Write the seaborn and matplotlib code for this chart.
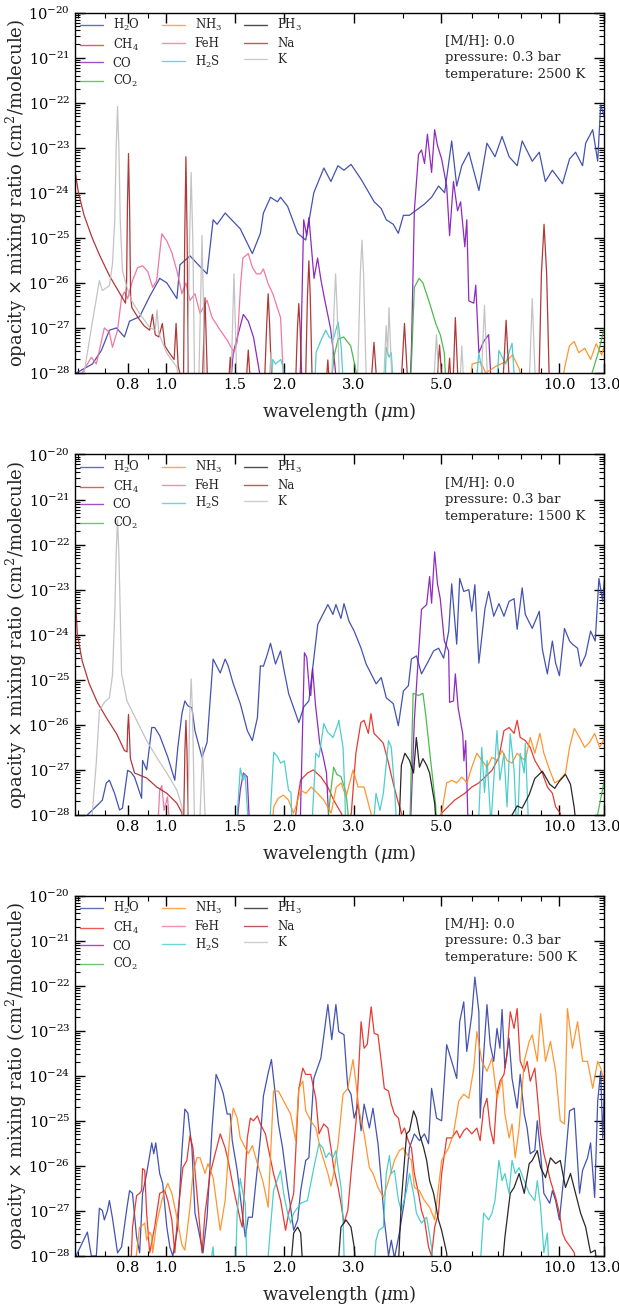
"""
Opacity x mixing ratio spectra at 0.3 bar for three temperatures.
Values are read off a reference figure (log10 of opacity x mixing ratio).
"""
import matplotlib
matplotlib.use("Agg")
import matplotlib.pyplot as plt
import numpy as np
import seaborn as sns
from matplotlib.lines import Line2D
from matplotlib.ticker import FixedLocator, FixedFormatter, LogLocator, NullFormatter

sns.set_theme(style="ticks")
plt.rcParams["font.family"] = ["DejaVu Serif"]
plt.rcParams["mathtext.fontset"] = "dejavuserif"

# ── labels / colours ────────────────────────────────────────────────────────
SPECIES = ["H2O", "CH4", "CO", "CO2", "NH3", "FeH", "H2S", "PH3", "Na", "K"]
LABELS = ["H$_2$O", "CH$_4$", "CO", "CO$_2$", "NH$_3$", "FeH", "H$_2$S", "PH$_3$", "Na", "K"]
COLORS = ["#3040a8", "#e3261c", "#8314b8", "#3cb43c", "#ff8a1a",
          "#ee6a9a", "#3cc8c8", "#111111", "#a82222", "#bdbdbd"]
TEMPERATURES = [2500, 1500, 500]
XTICKS = [0.8, 1.0, 1.5, 2.0, 3.0, 5.0, 10.0, 13.0]
XTICKLABELS = ["0.8", "1.0", "1.5", "2.0", "3.0", "5.0", "10.0", "13.0"]
YDECADES = [-28, -27, -26, -25, -24, -23, -22, -21, -20]

# ── T = 2500 K  (wavelength um, log10 opacity) ──────────────────────────────
H2O_2500 = [(0.585, -28.2), (0.592, -28.0), (0.651, -27.8), (0.686, -27.5), (0.719, -27.05),
            (0.749, -27.0), (0.785, -27.2), (0.809, -26.85), (0.858, -26.75), (0.91, -26.3),
            (0.965, -25.9), (1.006, -26.0), (1.067, -26.35), (1.086, -25.6), (1.152, -25.4),
            (1.21, -25.6), (1.273, -25.8), (1.319, -24.6), (1.35, -24.7), (1.415, -24.45),
            (1.546, -24.8), (1.659, -25.35), (1.739, -24.9), (1.77, -24.45), (1.845, -24.1),
            (1.922, -24.2), (1.957, -24.1), (2.039, -24.3), (2.163, -24.9), (2.267, -25.05),
            (2.377, -24.0), (2.521, -23.45), (2.627, -23.75), (2.737, -23.4), (2.836, -23.5),
            (2.955, -23.37), (3.134, -23.7), (3.267, -23.97), (3.384, -24.2), (3.526, -24.35),
            (3.632, -24.6), (3.784, -24.7), (3.897, -24.9), (4.014, -24.5), (4.158, -24.5),
            (4.385, -24.35), (4.543, -24.25), (4.734, -24.1), (4.933, -23.85), (5.11, -24.0),
            (5.325, -22.85), (5.484, -23.85), (5.648, -23.4), (5.886, -23.1), (6.243, -23.95),
            (6.545, -22.9), (6.861, -23.2), (7.15, -22.75), (7.451, -23.2), (7.81, -23.4),
            (8.043, -22.85), (8.531, -23.3), (8.89, -23.1), (9.209, -23.75), (9.597, -23.5),
            (10.18, -23.8), (10.61, -23.25), (10.99, -23.1), (11.45, -23.4), (11.66, -22.9),
            (12.15, -22.6), (12.51, -23.3), (12.73, -22.05), (13.04, -22.35)]
CO_2500 = [(1.45, -28.6), (1.484, -27.55), (1.574, -26.7), (1.62, -26.85), (1.67, -27.2),
           (1.739, -28.1), (1.78, -28.6), (2.18, -28.6), (2.2, -27.8), (2.24, -24.6),
           (2.28, -24.95), (2.31, -24.55), (2.38, -25.9), (2.43, -25.45), (2.48, -25.95),
           (2.53, -26.35), (2.62, -27.0), (2.68, -27.7), (2.74, -28.6), (4.16, -28.6),
           (4.207, -27.5), (4.28, -24.4), (4.385, -23.15), (4.463, -23.05), (4.543, -23.35),
           (4.62, -22.7), (4.734, -23.55), (4.82, -22.6), (4.90, -22.95), (5.021, -23.25),
           (5.171, -23.85), (5.26, -24.95), (5.38, -23.75), (5.51, -24.4), (5.61, -24.2),
           (5.75, -25.2), (5.817, -24.6), (5.886, -26.4), (6.06, -26.45), (6.13, -26.05),
           (6.243, -27.55), (6.42, -27.3), (6.61, -27.15), (6.74, -28.6)]
CO2_2500 = [(2.6, -28.6), (2.68, -27.6), (2.74, -27.25), (2.83, -27.2), (2.95, -27.4),
            (3.05, -28.0), (3.1, -28.6), (4.16, -28.6), (4.207, -27.8), (4.28, -26.1),
            (4.4, -25.9), (4.5, -26.0), (4.68, -26.45), (4.85, -26.9), (4.98, -27.15),
            (5.1, -27.55), (5.17, -28.6), (11.8, -28.6), (12.1, -28.0), (12.6, -27.5),
            (13.0, -27.0)]
NH3_2500 = [(5.9, -28.6), (6.0, -27.8), (6.3, -27.75), (6.5, -28.0), (6.9, -27.85),
            (7.3, -27.75), (7.6, -27.6), (7.9, -27.9), (8.2, -28.6), (10.0, -28.6),
            (10.3, -27.9), (10.6, -27.4), (10.9, -27.3), (11.2, -27.55), (11.6, -27.45),
            (12.0, -27.7), (12.4, -27.35), (12.8, -27.6), (13.0, -27.4)]
FeH_2500 = [(0.60, -28.6), (0.613, -28.0), (0.647, -27.65), (0.666, -27.8), (0.698, -27.0),
            (0.719, -27.1), (0.732, -27.43), (0.754, -27.05), (0.772, -26.33), (0.785, -26.2),
            (0.80, -26.35), (0.823, -25.95), (0.848, -25.66), (0.873, -25.62), (0.90, -25.75),
            (0.926, -26.1), (0.948, -25.95), (0.977, -24.91), (1.006, -25.07), (1.036, -25.33),
            (1.067, -25.73), (1.099, -26.24), (1.125, -26.0), (1.152, -26.39), (1.186, -26.24),
            (1.222, -26.68), (1.273, -26.39), (1.311, -26.77), (1.375, -27.05), (1.432, -27.27),
            (1.49, -27.55), (1.52, -27.3), (1.55, -26.0), (1.57, -25.45), (1.62, -25.35),
            (1.66, -25.66), (1.70, -25.8), (1.739, -25.8), (1.77, -25.69), (1.82, -26.02),
            (1.87, -26.24), (1.92, -26.55), (1.957, -26.77), (1.98, -27.71), (2.0, -28.6)]
H2S_2500 = [(1.85, -28.6), (1.87, -27.7), (1.9, -27.8), (1.96, -27.7), (1.99, -27.9),
            (2.01, -28.6), (2.38, -28.6), (2.41, -27.54), (2.48, -27.27), (2.55, -27.05),
            (2.6, -27.2), (2.66, -27.27), (2.74, -26.87), (2.79, -27.43), (2.84, -28.6),
            (3.6, -28.6), (3.63, -27.43), (3.69, -27.65), (3.74, -27.55), (3.8, -28.6),
            (6.1, -28.6), (6.24, -27.56), (6.35, -27.9), (6.45, -28.6), (6.9, -28.6),
            (7.02, -27.5), (7.3, -27.8), (7.58, -27.34), (7.75, -28.6)]
Na_2500 = [(0.585, -23.3), (0.59, -23.6), (0.60, -24.0), (0.62, -24.5), (0.65, -25.0),
           (0.68, -25.4), (0.72, -25.85), (0.76, -26.2), (0.79, -26.45), (0.795, -26.0),
           (0.799, -24.3), (0.804, -23.13), (0.809, -24.3), (0.814, -26.3), (0.82, -26.55),
           (0.85, -26.77), (0.88, -26.95), (0.91, -27.05), (0.925, -26.7), (0.94, -27.15),
           (0.96, -27.2), (0.98, -26.9), (0.995, -27.4), (1.02, -27.55), (1.05, -27.7),
           (1.062, -26.9), (1.075, -27.85), (1.10, -28.2), (1.108, -28.6), (1.117, -25.0),
           (1.125, -23.2), (1.133, -25.0), (1.142, -28.6), (1.235, -28.6), (1.258, -26.33),
           (1.28, -28.6), (1.435, -28.6), (1.458, -27.65), (1.48, -28.6), (1.59, -28.6),
           (1.62, -27.49), (1.65, -28.6), (1.775, -28.6), (1.805, -26.9), (1.82, -26.24),
           (1.835, -26.9), (1.865, -28.6), (2.13, -28.6), (2.16, -27.0), (2.177, -26.46),
           (2.194, -27.0), (2.225, -28.6), (2.26, -28.6), (2.29, -26.3), (2.309, -25.51),
           (2.328, -26.3), (2.36, -28.6), (2.54, -28.6), (2.58, -27.71), (2.62, -28.6),
           (3.30, -28.6), (3.38, -27.32), (3.46, -28.6), (3.94, -28.6), (4.04, -26.9),
           (4.14, -28.6), (4.85, -28.6), (4.96, -27.38), (5.07, -28.6), (5.16, -28.6),
           (5.26, -27.67), (5.33, -28.6), (5.35, -28.6), (5.44, -26.77), (5.55, -28.6),
           (7.15, -28.6), (7.32, -26.83), (7.50, -28.6), (8.85, -28.6), (9.0, -25.8),
           (9.14, -24.7), (9.28, -25.8), (9.45, -28.6), (13.0, -28.6)]
K_2500 = [(0.60, -28.6), (0.62, -28.0), (0.65, -26.9), (0.678, -25.95), (0.69, -26.17),
          (0.719, -26.06), (0.732, -25.58), (0.742, -24.6), (0.748, -23.0), (0.754, -22.09),
          (0.760, -23.0), (0.766, -24.6), (0.776, -25.73), (0.797, -26.1), (0.818, -26.39),
          (0.858, -26.68), (0.91, -26.99), (0.94, -27.05), (0.95, -26.6), (0.96, -27.12),
          (1.006, -27.56), (1.067, -27.87), (1.09, -28.6), (1.135, -28.6), (1.148, -25.2),
          (1.16, -23.55), (1.172, -25.2), (1.185, -28.6), (1.21, -28.6), (1.236, -24.95),
          (1.26, -28.6), (1.46, -28.6), (1.49, -25.8), (1.52, -28.6), (1.82, -28.6),
          (1.85, -27.55), (1.88, -28.6), (2.63, -28.6), (2.675, -26.6), (2.70, -25.8),
          (2.725, -26.6), (2.77, -28.6), (3.06, -28.6), (3.12, -25.8), (3.15, -25.05),
          (3.18, -25.8), (3.24, -28.6), (3.56, -28.6), (3.63, -26.95), (3.66, -27.6),
          (3.69, -26.55), (3.77, -28.6), (4.77, -28.6), (4.87, -27.15), (4.97, -28.6),
          (5.56, -28.6), (5.65, -27.4), (5.74, -28.6), (6.3, -28.6), (6.45, -26.5),
          (6.6, -28.6), (8.35, -28.6), (8.53, -26.35), (8.72, -28.6), (13.0, -28.6)]

# ── T = 1500 K ──────────────────────────────────────────────────────────────
H2O_1500 = [(0.59, -28.3), (0.632, -28.0), (0.678, -27.74), (0.69, -27.67), (0.706, -27.29),
            (0.719, -27.23), (0.741, -27.52), (0.763, -27.89), (0.776, -27.85), (0.80, -27.01),
            (0.815, -27.05), (0.833, -27.16), (0.868, -27.63), (0.873, -26.79), (0.894, -27.0),
            (0.921, -26.06), (0.937, -26.06), (0.965, -26.24), (1.012, -26.72), (1.054, -27.23),
            (1.073, -26.5), (1.099, -25.75), (1.118, -25.47), (1.138, -25.58), (1.165, -25.62),
            (1.186, -26.13), (1.236, -26.72), (1.273, -26.39), (1.319, -24.54), (1.375, -24.85),
            (1.415, -24.54), (1.44, -24.69), (1.484, -25.09), (1.546, -25.53), (1.611, -26.13),
            (1.659, -26.35), (1.709, -25.84), (1.739, -24.69), (1.77, -24.7), (1.812, -24.43),
            (1.845, -24.19), (1.90, -24.65), (1.957, -24.36), (1.992, -24.74), (2.052, -25.31),
            (2.138, -25.75), (2.177, -25.95), (2.242, -25.6), (2.309, -25.47), (2.433, -23.77),
            (2.506, -23.55), (2.581, -23.33), (2.658, -23.55), (2.705, -23.33), (2.786, -23.64),
            (2.836, -23.31), (2.92, -23.7), (3.01, -23.92), (3.134, -24.3), (3.228, -24.65),
            (3.324, -24.87), (3.423, -25.09), (3.526, -24.95), (3.632, -25.4), (3.784, -25.53),
            (3.897, -26.02), (4.014, -25.25), (4.134, -25.13), (4.207, -24.54), (4.333, -24.47),
            (4.463, -24.87), (4.65, -24.58), (4.79, -24.36), (4.933, -24.3), (5.08, -24.52),
            (5.233, -23.92), (5.325, -22.87), (5.484, -24.21), (5.58, -22.75), (5.714, -23.04),
            (5.886, -23.0), (5.991, -23.48), (6.098, -22.89), (6.243, -24.63), (6.47, -23.42),
            (6.61, -23.04), (6.81, -23.59), (7.02, -23.31), (7.23, -23.59), (7.45, -23.26),
            (7.67, -23.2), (7.81, -23.88), (8.043, -22.96), (8.19, -23.55), (8.531, -23.86),
            (8.89, -23.48), (9.049, -24.32), (9.318, -24.87), (9.597, -24.14), (9.78, -24.63),
            (10.0, -24.91), (10.3, -23.86), (10.61, -24.14), (10.79, -24.21), (11.12, -24.3),
            (11.32, -24.7), (11.66, -24.45), (12.0, -23.92), (12.33, -24.14), (12.6, -22.75),
            (12.88, -23.26), (13.05, -22.6)]
CH4_1500 = [(2.10, -28.6), (2.16, -27.67), (2.20, -27.23), (2.29, -27.07), (2.37, -27.0),
            (2.48, -27.16), (2.58, -27.38), (2.67, -27.67), (2.79, -27.96), (2.9, -28.3),
            (2.96, -27.96), (3.04, -26.63), (3.13, -25.95), (3.19, -25.9), (3.27, -26.19),
            (3.32, -25.75), (3.38, -26.19), (3.46, -26.28), (3.57, -26.41), (3.68, -26.85),
            (3.78, -27.29), (3.90, -27.74), (3.97, -27.96), (4.1, -28.6), (4.9, -28.6),
            (5.02, -27.96), (5.42, -27.67), (5.75, -27.52), (5.99, -27.38), (6.24, -27.29),
            (6.47, -27.16), (6.74, -27.01), (7.02, -26.72), (7.23, -26.13), (7.45, -26.06),
            (7.67, -26.19), (7.81, -25.9), (7.95, -26.28), (8.19, -26.35), (8.43, -26.5),
            (8.66, -26.79), (9.05, -27.07), (9.32, -27.38), (9.6, -27.52), (9.78, -27.82),
            (10.05, -27.96), (10.2, -28.6)]
CO_1500 = [(1.50, -28.6), (1.546, -27.45), (1.574, -27.07), (1.61, -27.15), (1.64, -28.6),
           (2.19, -28.6), (2.25, -24.4), (2.28, -24.5), (2.32, -25.3), (2.335, -25.35),
           (2.36, -24.75), (2.40, -25.55), (2.46, -26.4), (2.51, -26.7), (2.56, -27.07),
           (2.61, -28.6), (4.17, -28.6), (4.28, -25.9), (4.385, -24.43), (4.463, -23.44),
           (4.60, -23.33), (4.68, -22.71), (4.734, -23.3), (4.82, -22.16), (4.90, -22.87),
           (4.98, -23.2), (5.10, -24.14), (5.23, -24.36), (5.26, -25.5), (5.38, -25.47),
           (5.44, -24.87), (5.53, -25.62), (5.68, -26.2), (5.72, -26.8), (5.78, -26.35),
           (5.85, -28.0), (5.9, -28.6)]
CO2_1500 = [(2.55, -28.6), (2.627, -27.45), (2.67, -26.94), (2.72, -27.1), (2.786, -27.15),
            (2.87, -27.5), (2.95, -28.6), (4.16, -28.6), (4.207, -26.8), (4.25, -25.3),
            (4.39, -25.35), (4.5, -25.3), (4.57, -25.75), (4.71, -26.8), (4.85, -27.8),
            (4.9, -28.6), (11.8, -28.6), (12.5, -28.0), (13.05, -27.16)]
NH3_1500 = [(1.85, -28.6), (1.88, -27.82), (1.93, -27.63), (1.99, -27.56), (2.05, -27.67),
            (2.11, -27.96), (2.14, -27.82), (2.20, -27.45), (2.27, -27.52), (2.34, -27.38),
            (2.43, -27.52), (2.52, -27.67), (2.63, -27.96), (2.71, -27.38), (2.79, -27.29),
            (2.87, -27.6), (2.99, -27.0), (3.08, -27.38), (3.19, -27.38), (3.32, -27.96),
            (3.4, -28.6), (4.95, -28.6), (5.02, -27.96), (5.17, -27.29), (5.33, -27.23),
            (5.48, -27.29), (5.65, -27.16), (5.82, -27.29), (5.99, -26.94), (6.17, -26.63),
            (6.35, -26.79), (6.55, -26.94), (6.74, -26.72), (6.94, -26.79), (7.15, -26.57),
            (7.36, -26.79), (7.58, -26.85), (7.81, -26.63), (8.04, -26.74), (8.19, -26.79),
            (8.43, -26.28), (8.66, -26.63), (8.92, -26.19), (9.13, -26.63), (9.45, -27.01),
            (9.73, -27.29), (10.0, -27.23), (10.36, -27.07), (10.61, -26.5), (10.91, -26.08),
            (11.25, -26.28), (11.59, -26.5), (11.93, -26.39), (12.29, -26.19), (12.65, -26.5),
            (13.05, -26.28)]
FeH_1500 = [(0.95, -28.6), (0.965, -27.45), (0.977, -27.35), (0.99, -27.9), (1.01, -27.6),
            (1.03, -28.6)]
H2S_1500 = [(1.50, -28.6), (1.52, -27.96), (1.546, -26.96), (1.57, -27.23), (1.59, -27.1),
            (1.61, -27.82), (1.63, -28.6), (1.83, -28.6), (1.845, -27.9), (1.88, -26.61),
            (1.92, -26.7), (1.957, -26.85), (2.0, -26.8), (2.05, -27.45), (2.08, -27.5),
            (2.1, -28.6), (2.34, -28.6), (2.36, -27.96), (2.405, -26.63), (2.45, -26.72),
            (2.52, -25.97), (2.58, -26.17), (2.66, -26.28), (2.74, -25.97), (2.75, -25.9),
            (2.82, -26.5), (2.85, -27.5), (2.87, -28.6), (3.34, -28.6), (3.42, -27.52),
            (3.5, -27.9), (3.57, -27.52), (3.68, -26.35), (3.74, -26.5), (3.81, -27.38),
            (3.88, -28.6), (6.2, -28.6), (6.35, -26.5), (6.45, -27.5), (6.55, -26.79),
            (6.7, -28.2), (6.94, -26.13), (7.06, -27.23), (7.23, -26.63), (7.36, -27.82),
            (7.5, -26.2), (7.67, -27.0), (7.81, -28.6), (7.95, -26.63), (8.14, -27.07),
            (8.19, -26.41), (8.38, -28.6)]
PH3_1500 = [(3.9, -28.6), (3.967, -26.9), (4.05, -26.63), (4.16, -26.79), (4.26, -27.07),
            (4.33, -26.28), (4.41, -26.94), (4.5, -26.75), (4.6, -26.9), (4.68, -27.07),
            (4.82, -27.74), (4.9, -28.6), (7.4, -28.6), (7.58, -28.0), (7.81, -27.8),
            (8.04, -27.85), (8.38, -27.55), (8.66, -27.19), (9.05, -27.03), (9.45, -27.32),
            (9.73, -27.41), (10.0, -27.25), (10.36, -27.1), (10.67, -27.32), (10.91, -27.85),
            (11.12, -28.6)]
Na_1500 = [(0.585, -23.0), (0.59, -23.26), (0.596, -23.99), (0.613, -24.58), (0.639, -25.09),
           (0.67, -25.5), (0.706, -25.84), (0.75, -26.2), (0.785, -26.57), (0.797, -26.6),
           (0.80, -26.1), (0.804, -25.77), (0.808, -26.2), (0.813, -26.75), (0.833, -27.07),
           (0.894, -27.18), (0.948, -27.38), (1.006, -27.52), (1.067, -27.74), (1.1, -27.96),
           (1.108, -28.6), (1.118, -26.6), (1.125, -25.9), (1.132, -26.6), (1.142, -28.6),
           (13.0, -28.6)]
K_1500 = [(0.64, -28.6), (0.65, -28.0), (0.666, -26.83), (0.678, -25.69), (0.698, -25.5),
          (0.719, -25.4), (0.732, -24.9), (0.742, -23.5), (0.748, -22.2), (0.754, -21.45),
          (0.760, -22.2), (0.766, -23.5), (0.772, -24.87), (0.797, -25.47), (0.843, -25.9),
          (0.894, -26.35), (0.948, -26.72), (1.006, -27.07), (1.067, -27.45), (1.099, -27.82),
          (1.118, -28.6), (1.135, -28.6), (1.15, -25.8), (1.16, -24.98), (1.17, -25.8),
          (1.185, -28.6), (1.215, -28.6), (1.24, -26.5), (1.265, -28.6), (13.0, -28.6)]

# ── T = 500 K ───────────────────────────────────────────────────────────────
H2O_500 = [(0.585, -28.3), (0.59, -28.02), (0.632, -27.47), (0.647, -28.0), (0.666, -28.0),
           (0.678, -26.94), (0.69, -26.99), (0.698, -27.2), (0.711, -26.99), (0.719, -26.77),
           (0.732, -27.16), (0.754, -27.93), (0.772, -27.8), (0.797, -26.92), (0.809, -26.55),
           (0.823, -26.61), (0.843, -27.58), (0.858, -27.93), (0.873, -26.61), (0.894, -26.17),
           (0.921, -25.49), (0.932, -25.73), (0.943, -25.49), (0.965, -26.17), (0.982, -26.39),
           (1.006, -27.36), (1.024, -27.8), (1.042, -28.0), (1.073, -27.36), (1.099, -25.66),
           (1.118, -24.74), (1.138, -24.83), (1.165, -25.6), (1.186, -27.05), (1.207, -27.36),
           (1.243, -27.93), (1.273, -27.14), (1.311, -25.16), (1.342, -23.97), (1.375, -24.19),
           (1.399, -24.39), (1.432, -24.85), (1.458, -24.85), (1.475, -25.44), (1.518, -26.1),
           (1.564, -27.05), (1.592, -27.58), (1.62, -27.14), (1.659, -27.14), (1.709, -26.04),
           (1.739, -25.38), (1.77, -24.45), (1.82, -23.94), (1.855, -23.64), (1.878, -24.06),
           (1.933, -25.07), (1.98, -25.6), (2.04, -26.48), (2.075, -26.92), (2.113, -27.43),
           (2.163, -27.2), (2.201, -26.55), (2.267, -25.88), (2.309, -25.82), (2.377, -24.06),
           (2.477, -23.61), (2.581, -22.42), (2.64, -23.2), (2.705, -22.42), (2.75, -23.02),
           (2.836, -23.09), (2.90, -24.28), (2.955, -24.41), (3.01, -24.94), (3.08, -24.63),
           (3.134, -25.22), (3.19, -24.63), (3.29, -25.16), (3.36, -24.72), (3.46, -25.51),
           (3.526, -26.33), (3.59, -27.2), (3.68, -28.0), (3.74, -27.65), (3.81, -28.05),
           (3.92, -27.49), (4.04, -26.77), (4.16, -25.6), (4.28, -25.29), (4.41, -25.44),
           (4.54, -25.29), (4.65, -25.51), (4.734, -24.28), (4.875, -24.94), (5.021, -25.0),
           (5.171, -23.31), (5.325, -23.68), (5.484, -24.06), (5.58, -22.8), (5.714, -22.36),
           (5.817, -23.46), (5.991, -22.64), (6.098, -21.81), (6.243, -22.58), (6.29, -24.94),
           (6.42, -23.53), (6.545, -22.42), (6.67, -23.31), (6.81, -23.68), (6.941, -22.95),
           (7.06, -23.39), (7.15, -22.53), (7.27, -23.83), (7.45, -23.17), (7.58, -24.06),
           (7.81, -24.72), (7.95, -23.97), (8.14, -24.85), (8.28, -25.16), (8.43, -25.73),
           (8.66, -25.66), (8.785, -25.0), (8.96, -25.73), (9.13, -26.61), (9.45, -26.83),
           (9.597, -26.55), (9.78, -26.77), (10.0, -27.2), (10.3, -26.1), (10.61, -24.78),
           (10.91, -24.72), (11.25, -26.61), (11.45, -26.1), (11.79, -25.82), (12.0, -25.49),
           (12.29, -26.7), (12.51, -24.56), (12.73, -23.9), (12.88, -25.38), (13.05, -23.9)]
CH4_500 = [(0.81, -28.6), (0.818, -27.93), (0.823, -27.36), (0.843, -26.66), (0.858, -26.61),
           (0.868, -26.55), (0.873, -26.06), (0.884, -26.1), (0.894, -27.05), (0.91, -27.93),
           (0.937, -27.36), (0.965, -26.61), (0.994, -26.55), (1.012, -26.77), (1.036, -27.2),
           (1.054, -27.93), (1.073, -27.05), (1.105, -26.04), (1.131, -25.88), (1.152, -25.33),
           (1.172, -25.6), (1.2, -26.61), (1.236, -27.93), (1.258, -27.05), (1.296, -26.17),
           (1.335, -25.73), (1.375, -25.29), (1.415, -25.6), (1.44, -25.88), (1.484, -26.48),
           (1.546, -27.2), (1.564, -27.36), (1.611, -25.38), (1.64, -24.94), (1.67, -25.0),
           (1.709, -24.89), (1.739, -25.07), (1.791, -25.29), (1.82, -25.6), (1.878, -26.17),
           (1.957, -26.77), (2.015, -27.43), (2.052, -27.05), (2.113, -26.61), (2.177, -24.3),
           (2.229, -23.83), (2.267, -23.97), (2.335, -23.97), (2.405, -24.5), (2.45, -25.29),
           (2.52, -25.07), (2.581, -25.16), (2.627, -25.6), (2.67, -26.04), (2.74, -26.48),
           (2.786, -26.83), (2.836, -27.27), (2.90, -26.99), (2.955, -26.17), (3.044, -25.0),
           (3.134, -22.8), (3.19, -23.39), (3.25, -23.3), (3.324, -22.47), (3.384, -23.06),
           (3.46, -23.09), (3.526, -23.68), (3.59, -24.28), (3.68, -24.34), (3.74, -24.63),
           (3.81, -24.85), (3.90, -24.94), (3.967, -25.29), (4.04, -25.16), (4.13, -25.44),
           (4.207, -25.6), (4.28, -26.17), (4.385, -26.61), (4.463, -26.99), (4.543, -27.2),
           (4.65, -27.8), (4.734, -28.0), (4.82, -27.36), (4.93, -27.05), (5.021, -26.17),
           (5.171, -25.38), (5.325, -25.38), (5.484, -25.22), (5.58, -25.38), (5.714, -25.22),
           (5.817, -25.16), (5.991, -25.29), (6.17, -25.16), (6.29, -25.44), (6.42, -24.72),
           (6.545, -24.5), (6.67, -25.16), (6.81, -25.51), (6.941, -24.41), (7.06, -24.12),
           (7.23, -23.97), (7.36, -23.53), (7.5, -22.58), (7.67, -22.95), (7.81, -22.51),
           (7.95, -23.68), (8.14, -23.9), (8.28, -23.68), (8.43, -24.12), (8.66, -23.83),
           (8.785, -24.41), (8.96, -25.29), (9.13, -25.73), (9.318, -26.04), (9.49, -26.33),
           (9.78, -26.7), (10.0, -27.05), (10.18, -27.49), (10.36, -27.65), (10.67, -27.8),
           (10.91, -27.93), (11.12, -28.6)]
NH3_500 = [(0.83, -28.6), (0.843, -27.93), (0.858, -27.36), (0.873, -27.32), (0.884, -27.27),
           (0.894, -27.65), (0.91, -27.47), (0.921, -27.55), (0.926, -27.93), (0.948, -27.27),
           (0.977, -26.77), (0.994, -26.55), (1.012, -26.39), (1.036, -26.61), (1.054, -26.92),
           (1.067, -27.14), (1.099, -27.76), (1.118, -27.87), (1.152, -26.92), (1.172, -26.17),
           (1.2, -25.82), (1.222, -25.82), (1.258, -26.17), (1.28, -25.95), (1.319, -26.26),
           (1.35, -26.92), (1.375, -27.43), (1.415, -26.77), (1.458, -25.16), (1.484, -24.72),
           (1.518, -24.94), (1.546, -25.38), (1.592, -25.6), (1.62, -25.73), (1.659, -25.55),
           (1.709, -25.95), (1.763, -26.33), (1.791, -26.61), (1.82, -26.92), (1.878, -24.34),
           (1.933, -24.34), (1.992, -24.56), (2.075, -24.85), (2.138, -25.44), (2.177, -24.28),
           (2.229, -24.12), (2.267, -24.78), (2.335, -25.0), (2.405, -25.16), (2.477, -25.66),
           (2.581, -26.17), (2.627, -26.45), (2.67, -26.17), (2.74, -25.51), (2.82, -24.41),
           (2.90, -24.28), (2.99, -23.64), (3.044, -24.19), (3.1, -24.78), (3.19, -25.29),
           (3.29, -26.04), (3.36, -26.17), (3.46, -26.48), (3.57, -26.7), (3.70, -26.26),
           (3.81, -25.88), (3.92, -25.66), (4.01, -25.6), (4.09, -25.73), (4.207, -25.88),
           (4.28, -26.48), (4.41, -26.55), (4.54, -26.77), (4.68, -26.92), (4.82, -27.2),
           (5.021, -25.88), (5.23, -25.6), (5.38, -25.29), (5.55, -24.56), (5.714, -24.41),
           (5.886, -24.5), (6.06, -23.83), (6.17, -23.02), (6.354, -23.68), (6.545, -23.9),
           (6.74, -23.61), (6.941, -24.5), (7.15, -24.06), (7.27, -24.85), (7.45, -25.38),
           (7.58, -25.07), (7.72, -25.82), (7.9, -25.16), (8.14, -23.68), (8.38, -23.24),
           (8.531, -23.09), (8.785, -23.68), (8.96, -22.62), (9.22, -23.68), (9.49, -23.24),
           (9.78, -23.9), (10.05, -25.0), (10.3, -25.07), (10.48, -22.51), (10.79, -23.39),
           (11.12, -22.8), (11.45, -23.68), (11.79, -23.68), (12.15, -24.28), (12.51, -23.68),
           (12.73, -23.83), (13.05, -24.19)]
H2S_500 = [(1.30, -28.6), (1.311, -27.93), (1.319, -27.8), (1.335, -28.6), (1.50, -28.6),
           (1.518, -27.05), (1.546, -26.28), (1.57, -26.61), (1.592, -26.83), (1.611, -28.6),
           (1.80, -28.6), (1.82, -28.0), (1.878, -26.55), (1.957, -26.1), (1.992, -26.61),
           (2.04, -27.05), (2.075, -27.27), (2.113, -27.05), (2.201, -26.83), (2.29, -26.77),
           (2.377, -26.04), (2.45, -25.51), (2.506, -25.6), (2.551, -25.82), (2.6, -25.71),
           (2.658, -25.82), (2.705, -25.66), (2.74, -26.04), (2.79, -26.5), (2.82, -27.2),
           (2.85, -28.6), (3.36, -28.6), (3.42, -27.65), (3.48, -27.43), (3.57, -27.36),
           (3.632, -26.17), (3.70, -25.77), (3.74, -26.17), (3.81, -26.1), (3.90, -26.77),
           (3.967, -26.99), (4.09, -26.55), (4.16, -26.17), (4.26, -26.61), (4.333, -27.05),
           (4.463, -27.27), (4.6, -27.14), (4.734, -27.8), (4.82, -28.6), (6.25, -28.6),
           (6.42, -27.05), (6.61, -27.2), (6.74, -27.05), (6.86, -26.77), (7.02, -25.88),
           (7.15, -26.33), (7.27, -26.17), (7.45, -26.61), (7.58, -25.88), (7.72, -26.17),
           (7.9, -26.04), (8.14, -26.33), (8.38, -26.61), (8.66, -26.77), (8.785, -26.33),
           (8.96, -26.92), (9.13, -27.93), (9.318, -27.49), (9.45, -28.6)]
PH3_500 = [(2.06, -28.6), (2.113, -27.49), (2.163, -27.36), (2.201, -27.49), (2.242, -28.6),
           (2.72, -28.6), (2.786, -27.36), (2.87, -27.2), (2.955, -27.36), (3.01, -27.8),
           (3.06, -28.6), (3.88, -28.6), (3.967, -26.77), (4.09, -25.29), (4.16, -25.22),
           (4.26, -24.78), (4.333, -24.94), (4.41, -25.29), (4.52, -25.6), (4.6, -25.88),
           (4.68, -26.33), (4.79, -26.61), (4.93, -27.2), (5.02, -27.43), (5.17, -27.93),
           (5.25, -28.6), (7.1, -28.6), (7.27, -27.58), (7.5, -26.61), (7.67, -26.48),
           (7.9, -26.17), (8.14, -26.61), (8.38, -25.95), (8.531, -25.88), (8.785, -25.66),
           (8.96, -26.04), (9.22, -26.26), (9.49, -25.82), (9.78, -25.95), (10.05, -25.88),
           (10.36, -26.48), (10.67, -26.17), (10.99, -26.61), (11.32, -27.05), (11.66, -27.36),
           (12.0, -27.93), (12.33, -27.87), (12.6, -28.6)]

PANELS = {
    2500: {"H2O": H2O_2500, "CO": CO_2500, "CO2": CO2_2500, "NH3": NH3_2500,
           "FeH": FeH_2500, "H2S": H2S_2500, "Na": Na_2500, "K": K_2500},
    1500: {"H2O": H2O_1500, "CH4": CH4_1500, "CO": CO_1500, "CO2": CO2_1500,
           "NH3": NH3_1500, "FeH": FeH_1500, "H2S": H2S_1500, "PH3": PH3_1500,
           "Na": Na_1500, "K": K_1500},
    500: {"H2O": H2O_500, "CH4": CH4_500, "NH3": NH3_500, "H2S": H2S_500, "PH3": PH3_500},
}

# ── figure ──────────────────────────────────────────────────────────────────
fig = plt.figure(figsize=(6.19, 13.06), dpi=100)
bottoms = [0.7144, 0.3760, 0.0383]

for temp, bottom in zip(TEMPERATURES, bottoms):
    ax = fig.add_axes([0.1212, bottom, 0.855, 0.2760])
    panel = PANELS[temp]
    for name, color in zip(SPECIES, COLORS):
        if name not in panel:
            continue
        wl, logop = zip(*panel[name])
        sns.lineplot(x=np.array(wl), y=10.0 ** np.array(logop), ax=ax, color=color,
                     linewidth=0.9, alpha=0.9, estimator=None, sort=False)

    ax.set_xscale("log")
    ax.set_yscale("log")
    ax.set_xlim(0.588, 13.0)
    ax.set_ylim(1e-28, 1e-20)

    ax.xaxis.set_major_locator(FixedLocator(XTICKS))
    ax.xaxis.set_major_formatter(FixedFormatter(XTICKLABELS))
    ax.xaxis.set_minor_locator(LogLocator(base=10, subs=np.arange(2, 10), numticks=50))
    ax.xaxis.set_minor_formatter(NullFormatter())
    ax.yaxis.set_major_locator(FixedLocator(10.0 ** np.array(YDECADES, dtype=float)))
    ax.yaxis.set_minor_locator(LogLocator(base=10, subs=np.arange(2, 10), numticks=100))
    ax.yaxis.set_minor_formatter(NullFormatter())

    ax.tick_params(which="both", direction="in", top=True, right=True, colors="black")
    ax.tick_params(which="major", length=7, width=1.0, labelsize=10.5)
    ax.tick_params(which="minor", length=3.5, width=0.8)
    for sp in ax.spines.values():
        sp.set_color("black")
        sp.set_linewidth(1.0)

    ax.set_xlabel(r"wavelength ($\mu$m)", fontsize=13, labelpad=6)
    ax.set_ylabel(r"opacity $\times$ mixing ratio (cm$^2$/molecule)", fontsize=13.0)
    ax.yaxis.set_label_coords(-0.087, 0.5)

    handles = [Line2D([], [], color=c, lw=1.0, alpha=0.75) for c in COLORS]
    ax.legend(handles, LABELS, loc="upper left", ncol=3, frameon=False, fontsize=8.5,
              handlelength=2.0, columnspacing=1.85, labelspacing=0.3,
              borderaxespad=0.1, borderpad=0.3, bbox_to_anchor=(0.0, 1.0))

    ax.text(0.70, 0.94, f"[M/H]: 0.0\npressure: 0.3 bar\ntemperature: {temp} K",
            transform=ax.transAxes, ha="left", va="top", fontsize=9.5, linespacing=1.4)

fig.savefig("out.png", dpi=100)
